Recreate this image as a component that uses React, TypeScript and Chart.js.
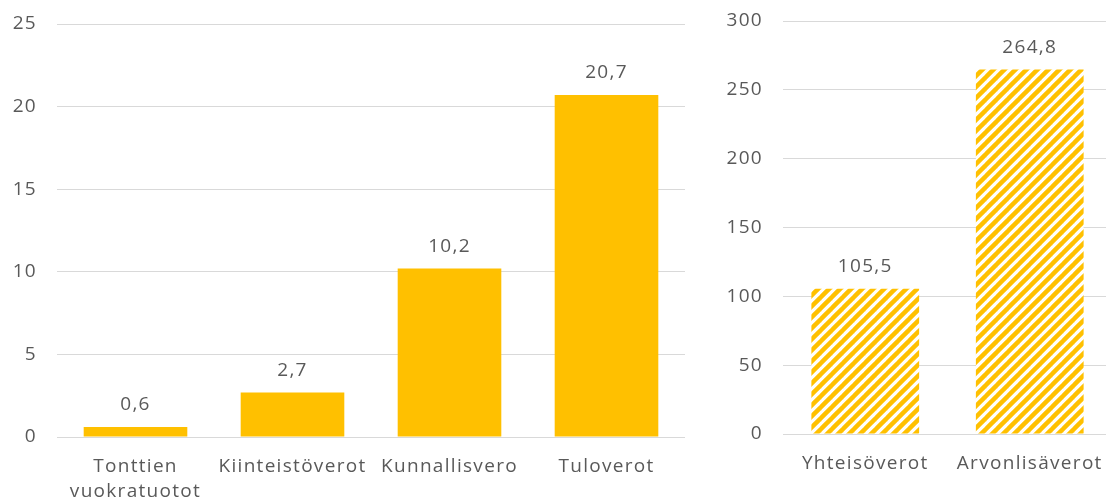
import React, { useEffect, useRef } from "react";
import { Chart, registerables } from "chart.js";

Chart.register(...registerables);

const leftCategories: (string | string[])[] = [["Tonttien", "vuokratuotot"], "Kiinteistöverot", "Kunnallisvero", "Tuloverot"];
const leftValues = [0.6, 2.7, 10.2, 20.7];
const rightCategories = ["Yhteisöverot", "Arvonlisäverot"];
const rightValues = [105.5, 264.8];

const YELLOW = "#FFC000";
const TEXT = "#595959";
const GRID = "#d9d9d9";
const FONT = "'Open Sans', sans-serif";
const FONT_SIZE = 19;
const SPACING = "1.3px";

const fmt = (v: number) => v.toFixed(1).replace(".", ",");

const spacingPlugin = {
  id: "letterSpacing",
  beforeUpdate(chart: any) { chart.ctx.letterSpacing = SPACING; },
  beforeLayout(chart: any) { chart.ctx.letterSpacing = SPACING; },
  beforeDraw(chart: any) { chart.ctx.letterSpacing = SPACING; },
};

const labelPlugin = {
  id: "valueLabels",
  afterDatasetsDraw(chart: any) {
    const ctx = chart.ctx;
    ctx.save();
    ctx.letterSpacing = SPACING;
    ctx.font = `${FONT_SIZE}px ${FONT}`;
    ctx.fillStyle = TEXT;
    ctx.textAlign = "center";
    ctx.textBaseline = "middle";
    chart.data.datasets.forEach((ds: any, i: number) => {
      const meta = chart.getDatasetMeta(i);
      meta.data.forEach((el: any, j: number) => {
        ctx.fillText(fmt(ds.data[j]), el.x, el.y - 22);
      });
    });
    ctx.restore();
  },
};

function makeHatch(): CanvasPattern | string {
  const s = 11;
  const c = document.createElement("canvas");
  c.width = s;
  c.height = s;
  const g = c.getContext("2d");
  if (!g) return YELLOW;
  g.fillStyle = "#ffffff";
  g.fillRect(0, 0, s, s);
  g.strokeStyle = YELLOW;
  g.lineWidth = 4.5;
  g.lineCap = "square";
  for (const o of [-s, 0, s]) {
    g.beginPath();
    g.moveTo(o, s);
    g.lineTo(o + s, 0);
    g.stroke();
  }
  const p = g.createPattern(c, "repeat");
  return p || YELLOW;
}

function makeOptions(max: number, step: number, yWidth: number, xHeight: number, padTop: number, padRight: number, barPct: number) {
  return {
    responsive: false,
    animation: false as const,
    layout: { padding: { top: padTop, right: padRight, left: 0, bottom: 0 } },
    plugins: { legend: { display: false }, tooltip: { enabled: false } },
    datasets: { bar: { categoryPercentage: 1, barPercentage: barPct } },
    scales: {
      x: {
        grid: { display: false, drawTicks: false },
        border: { display: false },
        ticks: { color: TEXT, font: { family: FONT, size: FONT_SIZE, lineHeight: 1.27 }, padding: 18, maxRotation: 0, autoSkip: false },
        afterFit: (s: any) => {
          s.height = xHeight;
          s.paddingLeft = 0;
          s.paddingRight = 0;
        },
      },
      y: {
        min: 0,
        max,
        grid: { color: GRID, lineWidth: 1, drawTicks: false },
        border: { display: false },
        ticks: { stepSize: step, color: TEXT, font: { family: FONT, size: FONT_SIZE }, padding: 20 },
        afterFit: (s: any) => {
          s.width = yWidth;
          s.paddingTop = 0;
          s.paddingBottom = 0;
        },
      },
    },
  };
}

export default function App() {
  const leftRef = useRef<HTMLCanvasElement>(null);
  const rightRef = useRef<HTMLCanvasElement>(null);

  useEffect(() => {
    const left = new Chart(leftRef.current!, {
      type: "bar",
      data: {
        labels: leftCategories as any,
        datasets: [{ data: leftValues, backgroundColor: YELLOW, borderWidth: 0 }],
      },
      options: makeOptions(25, 5, 57, 64, 24, 15, 0.66) as any,
      plugins: [spacingPlugin, labelPlugin],
    });
    const right = new Chart(rightRef.current!, {
      type: "bar",
      data: {
        labels: rightCategories,
        datasets: [{ data: rightValues, backgroundColor: makeHatch() as any, borderWidth: 0 }],
      },
      options: makeOptions(300, 50, 83, 67, 21, 0, 0.655) as any,
      plugins: [spacingPlugin, labelPlugin],
    });
    return () => {
      left.destroy();
      right.destroy();
    };
  }, []);

  return (
    <div style={{ position: "fixed", left: 0, top: 0, width: 1106, height: 501, overflow: "hidden", background: "#fff" }}>
      <canvas ref={leftRef} width={700} height={501} style={{ position: "absolute", left: 0, top: 0, width: 700, height: 501 }} />
      <canvas ref={rightRef} width={412} height={501} style={{ position: "absolute", left: 700, top: 0, width: 412, height: 501 }} />
    </div>
  );
}
